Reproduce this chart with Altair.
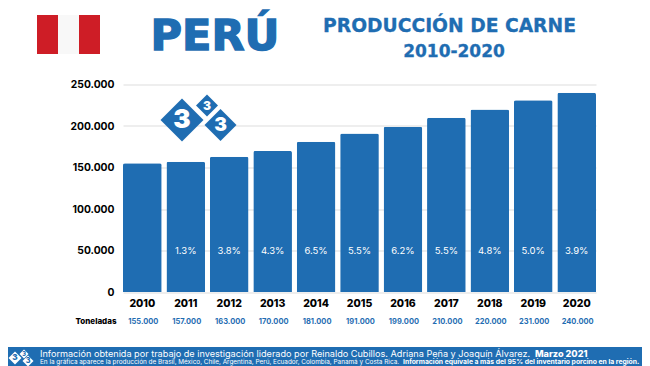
import altair as alt
import pandas as pd

years = ["2010","2011","2012","2013","2014","2015","2016","2017","2018","2019","2020"]
tons = [155000,157000,163000,170000,181000,191000,199000,210000,220000,231000,240000]
tons_labels = ["155.000","157.000","163.000","170.000","181.000","191.000","199.000","210.000","220.000","231.000","240.000"]
growth = ["","1.3%","3.8%","4.3%","6.5%","5.5%","6.2%","5.5%","4.8%","5.0%","3.9%"]
y_ticks = [0,50000,100000,150000,200000,250000]

BLUE = "#1F6DB2"
RED = "#CE1D26"
FONT = "Inter"
HEAD = "DejaVu Sans"
LEFT, TOP, W, H = 115, 76.5, 473, 207.5

def px(x): return x - 8 - LEFT
def py(y): return y - 8 - TOP

df = pd.DataFrame({"year": years, "tons": tons, "label": tons_labels, "growth": growth})
one = pd.DataFrame({"k": [0]})

xs = alt.X("year:N", sort=years, title=None,
           scale=alt.Scale(paddingInner=0.11, paddingOuter=0),
           axis=alt.Axis(labelAngle=0, labelFont=FONT, labelFontSize=10.5, labelFontWeight=800,
                         labelColor="#000", domain=False, ticks=False, labelPadding=6))
ys = alt.Y("tons:Q", title=None, scale=alt.Scale(domain=[0, 250000]),
           axis=alt.Axis(values=y_ticks, labelExpr="replace(format(datum.value, ','), ',', '.')",
                         labelFont=FONT, labelFontSize=10.3, labelFontWeight=700, labelColor="#000",
                         domain=False, ticks=False, labelPadding=9,
                         grid=True, gridColor="#DDDDDD", gridWidth=1.2))

bars = alt.Chart(df).mark_bar(color=BLUE, cornerRadiusTopLeft=2, cornerRadiusTopRight=2).encode(x=xs, y=ys)

pct = alt.Chart(df).mark_text(color="white", font=FONT, fontSize=9.5, baseline="middle").encode(
    x=alt.X("year:N", sort=years), y=alt.value(py(251)), text="growth:N")
tonlab = alt.Chart(df).mark_text(color=BLUE, font=FONT, fontSize=7.5, fontWeight=700, baseline="middle", dx=1).encode(
    x=alt.X("year:N", sort=years), y=alt.value(py(321.5)), text="label:N")

def rect(x1, x2, y1, y2, color):
    return alt.Chart(one).mark_rect(color=color).encode(
        x=alt.value(px(x1)), x2=alt.value(px(x2)), y=alt.value(py(y1)), y2=alt.value(py(y2)))

def txt(s, x, y, size, color, weight=400, align="center", font=FONT, **kw):
    return alt.Chart(one).mark_text(font=font, fontSize=size, fontWeight=weight, color=color,
                                    align=align, baseline="middle", **kw).encode(
        x=alt.value(px(x)), y=alt.value(py(y)), text=alt.value(s))

def diamond(x, y, span, color):
    return alt.Chart(one).mark_point(shape="diamond", filled=True, opacity=1, color=color, size=span ** 2).encode(
        x=alt.value(px(x)), y=alt.value(py(y)))

layers = [
    bars, pct, tonlab,
    txt("Toneladas", 96, 321.5, 8, "#000", 800),
    # flag
    rect(37, 58, 15, 54, RED), rect(58, 79, 15, 54, "#F8F8F8"), rect(79, 100, 15, 54, RED),
    # heading
    txt("PERÚ", 215, 37, 43, BLUE, 700, font=HEAD, stroke=BLUE, strokeWidth=1.4),
    txt("PRODUCCIÓN DE CARNE", 449.5, 26, 18.7, BLUE, 700, font=HEAD, stroke=BLUE, strokeWidth=0.3),
    txt("2010-2020", 454, 52, 17, BLUE, 700, font=HEAD, stroke=BLUE, strokeWidth=0.3),
    # logo
    diamond(182, 120, 43, BLUE), diamond(207, 105.5, 22, BLUE), diamond(220.5, 125, 32, BLUE),
    txt("3", 182, 120, 26, "white", 900), txt("3", 207, 105.5, 12, "white", 900), txt("3", 220.5, 125, 19, "white", 900),
    # footer
    rect(8, 642, 347, 366, BLUE),
    diamond(15, 358, 13, "white"), diamond(24, 354, 9, "white"), diamond(28, 361, 11, "white"),
    txt("3", 15, 358, 8, BLUE, 900), txt("3", 24, 354, 5.5, BLUE, 900), txt("3", 28, 361, 7, BLUE, 900),
    txt("Información obtenida por trabajo de investigación liderado por Reinaldo Cubillos. Adriana Peña y Joaquín Álvarez.",
        40, 353.5, 9.15, "white", 400, "left"),
    txt("Marzo 2021", 535, 353.5, 9.15, "white", 800, "left"),
    txt("En la gráfica aparece la producción de Brasil, México, Chile, Argentina, Perú, Ecuador, Colombia, Panamá y Costa Rica.",
        40, 362, 6.4, "white", 400, "left"),
    txt("Información equivale a más del 95% del inventario porcino en la región.", 403, 362, 6.8, "white", 700, "left"),
]

chart = alt.layer(*layers).properties(
    width=W, height=H,
    padding={"left": LEFT, "top": TOP, "right": 634 - LEFT - W, "bottom": 358 - TOP - H},
    autosize=alt.AutoSizeParams(type="none"),
    background="white",
).configure_view(stroke=None)

chart.save("out.html", embed_options={"renderer": "svg", "actions": False})
